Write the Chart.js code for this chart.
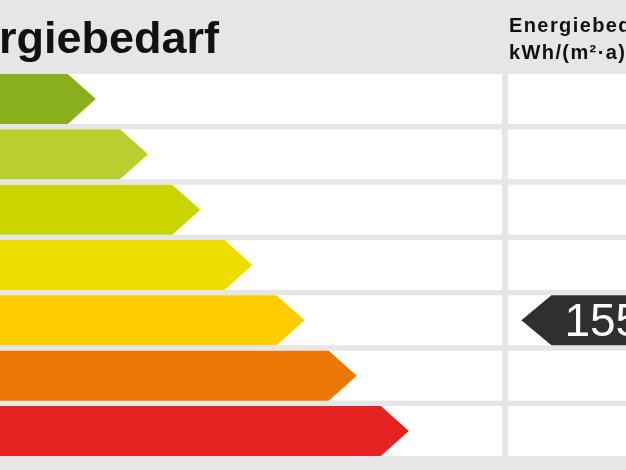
<!DOCTYPE html>
<html>
<head>
<meta charset="utf-8">
<script src="https://cdn.jsdelivr.net/npm/chart.js@4.4.1/dist/chart.umd.min.js"></script>
<style>
  html, body { margin: 0; padding: 0; background: #e6e6e6; }
  canvas { display: block; }
</style>
</head>
<body>
<canvas id="label" width="626" height="470"></canvas>
<script>
// energy classes (rows), one arrow per class
const classes = ["A", "B", "C", "D", "E", "F", "G"];
// arrow body length per class, in class steps
const arrowLengths = [1.3, 2.3, 3.3, 4.3, 5.3, 6.3, 7.3];
const classColors = ["#8aaf1e", "#b9cf2f", "#c9d400", "#f0dd00", "#ffcc00", "#ec7704", "#e42222"];

// the building's value and its class
const markerValue = 155;
const markerClass = "E";
const markerRange = [10.57, 12.6];

const titleText = "Energiebedarf";
const unitLines = ["Energiebedarf", "kWh/(m\u00b2\u00b7a)"];

// layout (scale units), not data
const leftColumnEnd = 9.62;
const rightColumnStart = 9.74;
const tipDepth = 28;
const rowHeight = 50;

const labelPlugin = {
  id: "energyLabel",
  beforeDatasetsDraw(chart) {
    const { ctx, scales: { x, y }, chartArea } = chart;
    ctx.save();
    ctx.fillStyle = "#e6e6e6";
    ctx.fillRect(0, 0, chart.width, chart.height);

    // white row strips in both columns
    ctx.fillStyle = "#ffffff";
    classes.forEach((c, i) => {
      const yc = y.getPixelForValue(i);
      const left = x.getPixelForValue(leftColumnEnd);
      const right = x.getPixelForValue(rightColumnStart);
      ctx.fillRect(chartArea.left, yc - rowHeight / 2, left - chartArea.left, rowHeight);
      ctx.fillRect(right, yc - rowHeight / 2, chartArea.right - right, rowHeight);
    });

    // headers
    ctx.fillStyle = "#111111";
    ctx.textBaseline = "alphabetic";
    ctx.font = "bold 45px 'Liberation Sans', Arial, sans-serif";
    ctx.textAlign = "right";
    ctx.fillText(titleText, 219, 53);

    ctx.font = "bold 20px 'Liberation Sans', Arial, sans-serif";
    ctx.textAlign = "left";
    ctx.letterSpacing = "1.4px";
    ctx.fillText(unitLines[0], 509, 32);
    ctx.fillText(unitLines[1], 509, 58.5);
    ctx.restore();
  },
  beforeDatasetDraw(chart, args) {
    const { ctx } = chart;
    const meta = args.meta;
    const pointsLeft = meta.index === 1;
    ctx.save();
    meta.data.forEach((bar, i) => {
      if (bar.skip || chart.data.datasets[meta.index].data[i] == null) return;
      const { x, y, base, height } = bar.getProps(["x", "y", "base", "height"], true);
      const top = y - height / 2;
      const bottom = y + height / 2;
      ctx.fillStyle = bar.options.backgroundColor;
      ctx.beginPath();
      if (pointsLeft) {
        ctx.moveTo(x, top);
        ctx.lineTo(base, top);
        ctx.lineTo(base - tipDepth - 2, y);
        ctx.lineTo(base, bottom);
        ctx.lineTo(x, bottom);
      } else {
        ctx.moveTo(base, top);
        ctx.lineTo(x, top);
        ctx.lineTo(x + tipDepth, y);
        ctx.lineTo(x, bottom);
        ctx.lineTo(base, bottom);
      }
      ctx.closePath();
      ctx.fill();

      if (pointsLeft) {
        ctx.fillStyle = "#ffffff";
        ctx.font = "46px 'Liberation Sans', Arial, sans-serif";
        ctx.textAlign = "left";
        ctx.textBaseline = "alphabetic";
        ctx.fillText(String(markerValue), base + 13, y + 15.5);
      }
    });
    ctx.restore();
    return false;
  }
};

new Chart(document.getElementById("label"), {
  type: "bar",
  data: {
    labels: classes,
    datasets: [
      {
        data: arrowLengths,
        backgroundColor: classColors,
        grouped: false,
        barThickness: rowHeight
      },
      {
        data: classes.map(c => (c === markerClass ? markerRange : null)),
        backgroundColor: "#2f2f2f",
        grouped: false,
        barThickness: rowHeight
      }
    ]
  },
  options: {
    indexAxis: "y",
    responsive: false,
    animation: false,
    devicePixelRatio: 1,
    layout: { padding: { top: 71.3, bottom: 11.3, left: 0, right: 0 } },
    scales: {
      x: { type: "linear", min: 0, max: 12, display: false },
      y: { display: false }
    },
    plugins: {
      legend: { display: false },
      tooltip: { enabled: false }
    }
  },
  plugins: [labelPlugin]
});
</script>
</body>
</html>
